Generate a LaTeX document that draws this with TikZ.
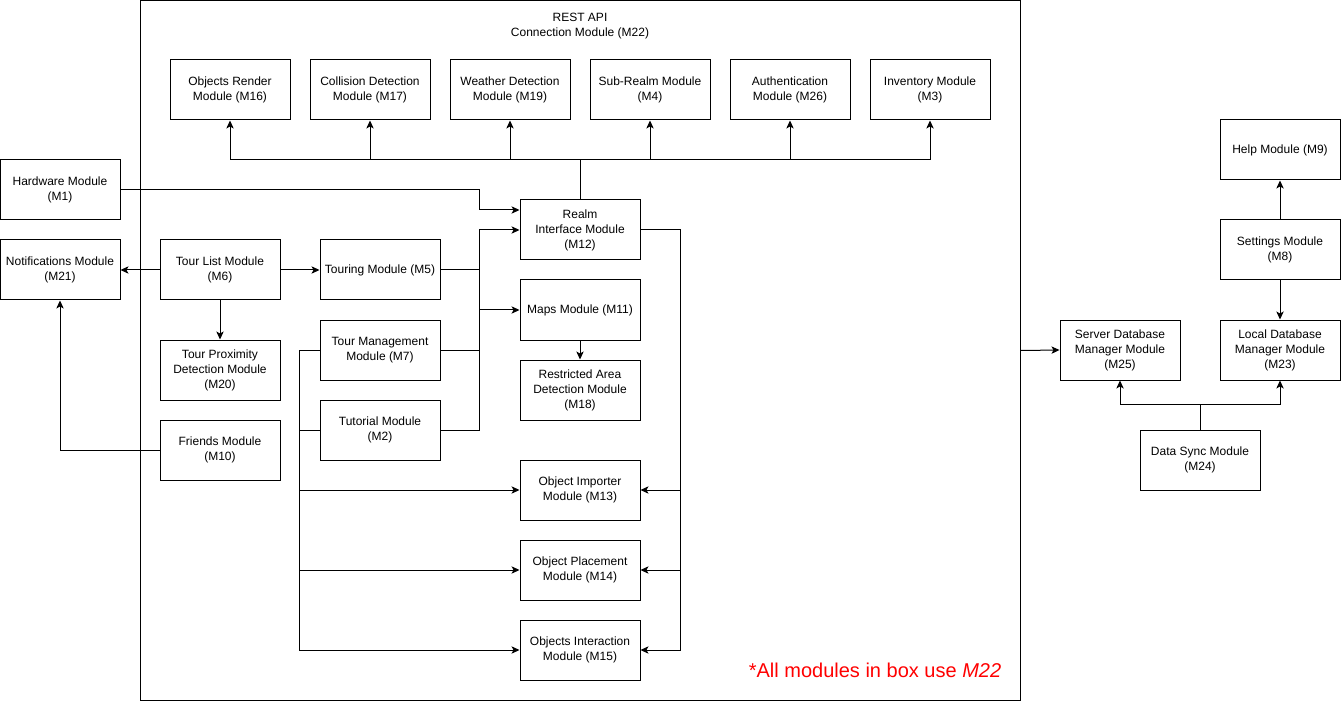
\documentclass[tikz,border=0pt]{standalone}
\usepackage{fontspec}
\setmainfont{Liberation Sans}
\usetikzlibrary{arrows.meta,positioning}

\begin{document}
\begin{tikzpicture}[x=0.75pt,y=-0.75pt]
\tikzstyle{main}=[rectangle, draw=black, line width=0.75pt, minimum width=90pt, minimum height=45pt, inner sep=1pt, align=center, font=\fontsize{9}{11.25}\selectfont, node distance=105pt]
\tikzstyle{big}=[main, minimum width=660pt, minimum height=525pt]
\tikzstyle{plain}=[align=center, font=\fontsize{9}{11.25}\selectfont]
\tikzstyle{connect}=[-{Stealth[length=6pt,width=5.5pt,inset=1.5pt]}, line width=0.75pt]
\tikzstyle{wire}=[line width=0.75pt]

  \useasboundingbox (0,0) rectangle (1342,702);

  \node[big, anchor=north west] (api) at (140,0) {};
  \node[plain] (apititle) at (580,26) {REST API\\Connection Module (M22)};

  \node[main] (objrender) at (230,90)          {Objects Render\\Module (M16)};
  \node[main] (collision) [right of=objrender] {Collision Detection\\Module (M17)};
  \node[main] (weather)   [right of=collision] {Weather Detection\\Module (M19)};
  \node[main] (subrealm)  [right of=weather]   {Sub-Realm Module\\(M4)};
  \node[main] (auth)      [right of=subrealm]  {Authentication\\Module (M26)};
  \node[main] (inventory) [right of=auth]      {Inventory Module\\(M3)};

  \node[main] (realm) at (580,230)                              {Realm\\Interface Module\\(M12)};
  \node[main, node distance=60pt] (maps)       [below of=realm] {Maps Module (M11)};
  \node[main, node distance=60pt] (restricted) [below of=maps]  {Restricted Area\\Detection Module\\(M18)};

  \node[main] (importer) at (580,490)                               {Object Importer\\Module (M13)};
  \node[main, node distance=60pt] (placement)   [below of=importer]  {Object Placement\\Module (M14)};
  \node[main, node distance=60pt] (interaction) [below of=placement] {Objects Interaction\\Module (M15)};

  \node[main] (touring) at (380,270)                             {Touring Module (M5)};
  \node[main, node distance=60pt] (tourmgmt) [below of=touring]  {Tour Management\\Module (M7)};
  \node[main, node distance=60pt] (tutorial) [below of=tourmgmt] {Tutorial Module\\(M2)};

  \node[main, node distance=120pt] (tourlist)  [left of=touring]   {Tour List Module\\(M6)};
  \node[main, node distance=120pt] (notif)     [left of=tourlist]  {Notifications Module\\(M21)};
  \node[main, node distance=60pt]  (hardware)  [above of=notif]    {Hardware Module\\(M1)};
  \node[main, node distance=75pt]  (proximity) [below of=tourlist] {Tour Proximity\\Detection Module\\(M20)};
  \node[main, node distance=60pt]  (friends)   [below of=proximity]{Friends Module\\(M10)};

  \node[main] (serverdb) at (1120,350)                           {Server Database\\Manager Module\\(M25)};
  \node[main, node distance=120pt] (localdb)  [right of=serverdb] {Local Database\\Manager Module\\(M23)};
  \node[main, node distance=75pt]  (settings) [above of=localdb]  {Settings Module\\(M8)};
  \node[main, node distance=75pt]  (help)     [above of=settings] {Help Module (M9)};
  \node[main] (datasync) at (1200,460)                           {Data Sync Module\\(M24)};

  \node[text=red, font=\fontsize{15}{18}\selectfont] (note) at (875,670) {*All modules in box use \textit{M22}};

  \foreach \n in {objrender,collision,weather,subrealm,auth,inventory}
    \draw[connect] (realm.north) -- ++(0,30pt) -| (\n.south);

  \draw[connect] (hardware.east) -| ([xshift=-30pt,yshift=15pt]realm.west) -- ([yshift=15pt]realm.west);
  \draw[connect] (touring.east) -| ([xshift=-30pt]realm.west) -- (realm.west);
  \draw[connect] (tourmgmt.east) -| ([xshift=-30pt]maps.west) -- (maps.west);
  \draw[wire]    (tutorial.east) -| ([xshift=-30pt]realm.west);
  \draw[connect] (maps.south) -- (restricted.north);

  \draw[connect] (realm.east) -- ++(30pt,0) |- (importer.east);
  \draw[connect] (realm.east) -- ++(30pt,0) |- (placement.east);
  \draw[connect] (realm.east) -- ++(30pt,0) |- (interaction.east);

  \draw[connect] (tourmgmt.west) -- ++(-15pt,0) |- (importer.west);
  \draw[connect] (tourmgmt.west) -- ++(-15pt,0) |- (placement.west);
  \draw[connect] (tourmgmt.west) -- ++(-15pt,0) |- (interaction.west);
  \draw[wire]    (tutorial.west) -- ++(-15pt,0);

  \draw[connect] (tourlist.west)  -- (notif.east);
  \draw[connect] (tourlist.east)  -- (touring.west);
  \draw[connect] (tourlist.south) -- (proximity.north);
  \draw[connect] (friends.west)   -| (notif.south);

  \draw[connect] (api.east) -- (serverdb.west);
  \draw[connect] (settings.north) -- (help.south);
  \draw[connect] (settings.south) -- (localdb.north);
  \draw[connect] (datasync.north) -- ++(0,18.75pt) -| (serverdb.south);
  \draw[connect] (datasync.north) -- ++(0,18.75pt) -| (localdb.south);

\end{tikzpicture}
\end{document}
